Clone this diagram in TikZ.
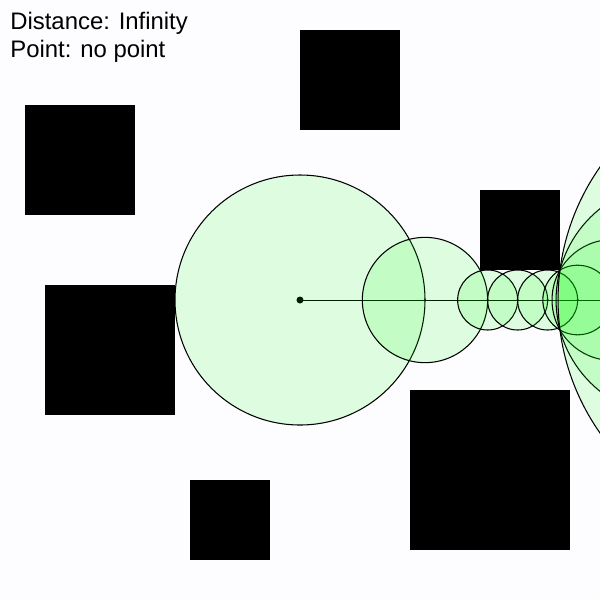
\documentclass[tikz,border=0pt]{standalone}
\usepackage{fontspec}
\setmainfont{Liberation Sans}
\usetikzlibrary{positioning}
\definecolor{marchgreen}{HTML}{00FF00}
\definecolor{canvasbg}{HTML}{FDFCFF}

\begin{document}
\begin{tikzpicture}[x=0.02cm, y=-0.02cm,
    obstacle/.style={fill=black},
    probe/.style={draw=black, line width=0.6pt, fill=marchgreen, fill opacity=0.12},
    ray/.style={draw=black, line width=0.55pt},
    readout/.style={anchor=base west, inner sep=0pt, font=\fontsize{13.6}{16}\selectfont},
]
    \fill[canvasbg] (0,0) rectangle (600,600);
    \useasboundingbox (0,0) rectangle (600,600);
    \clip (0,0) rectangle (600,600);

    % Obstacles
    \fill[obstacle] (300,30) rectangle (400,130);
    \fill[obstacle] (25,105) rectangle (135,215);
    \fill[obstacle] (45,285) rectangle (175,415);
    \fill[obstacle] (190,480) rectangle (270,560);
    \fill[obstacle] (410,390) rectangle (570,550);
    \fill[obstacle] (480,190) rectangle (560,270);

    % March points
    \coordinate (p0) at (300,300);
    \coordinate (p1) at (425,300);
    \coordinate (p2) at (487.65,300);
    \coordinate (p3) at (517.65,300);
    \coordinate (p4) at (547.65,300);
    \coordinate (p5) at (577.65,300);
    \coordinate (p6) at (612.46,300);
    \coordinate (p7) at (672.89,300);
    \coordinate (p8) at (789.70,300);
    \coordinate (p9) at (1021.35,300);

    \draw[ray] (p0) -- (p9);
    \fill (p0) circle (3.5);
    \foreach \i in {1,...,8}
        \fill (p\i) circle (1.2);

    % Distance circles
    \foreach \i/\r in {0/125, 1/62.65, 2/30, 3/30, 4/30, 5/34.81, 6/60.43, 7/116.81, 8/231.65}
        \draw[probe] (p\i) circle (\r);

    % Readout
    \node[readout] (dist) at (10,29) {Distance: Infinity};
    \node[readout] (hit) at (10,57) {Point: no point};
\end{tikzpicture}
\end{document}
